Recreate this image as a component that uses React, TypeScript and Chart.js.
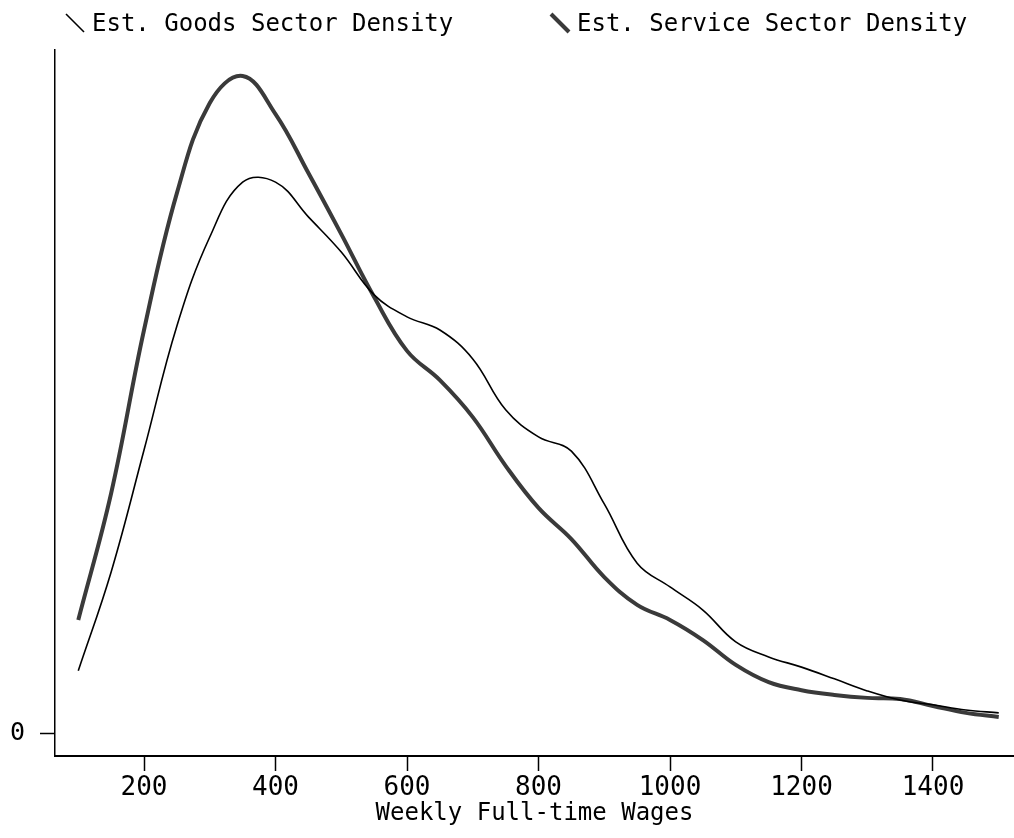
import React, { useEffect, useRef } from 'react';
import { Chart, registerables } from 'chart.js';

Chart.register(...registerables);

// Weekly wage grid (x values of the density estimates)
const wages = [
  100, 150, 200, 250, 300, 350, 400, 450, 500, 550, 600, 650, 700, 750,
  800, 850, 900, 950, 1000, 1050, 1100, 1150, 1200, 1250, 1300, 1350, 1400, 1450, 1500,
];

// Estimated kernel densities
const goodsDensity = [
  0.00017, 0.00044, 0.000773, 0.001112, 0.001355, 0.001505, 0.001505, 0.00141,
  0.001314, 0.001197, 0.001137, 0.001101, 0.001022, 0.000883, 0.000809, 0.00077, 0.000626,
  0.000464, 0.000399, 0.000336, 0.000249, 0.000208, 0.00018, 0.000148, 0.000115, 0.00009,
  0.000077, 0.000063, 0.000055,
];

const serviceDensity = [
  0.000309, 0.000655, 0.001101, 0.001475, 0.001721, 0.001795, 0.001691, 0.00153,
  0.001363, 0.001191, 0.001044, 0.000964, 0.000863, 0.00073, 0.000615, 0.00053, 0.000426,
  0.00035, 0.000309, 0.000254, 0.000186, 0.000139, 0.000117, 0.000104, 0.000096, 0.000093,
  0.000074, 0.000055, 0.000044,
];

const xTickValues = [200, 400, 600, 800, 1000, 1200, 1400];
const yTickValues = [0];
const seriesLabels = ['Est. Goods Sector Density', 'Est. Service Sector Density'];
const xTitle = 'Weekly Full-time Wages';

const FONT = '"DejaVu Sans Mono", "Liberation Mono", monospace';

export default function App() {
  const ref = useRef<HTMLCanvasElement>(null);

  useEffect(() => {
    if (!ref.current) return;

    const legendPlugin = {
      id: 'topLegend',
      afterDraw(chart: any) {
        const ctx = chart.ctx as CanvasRenderingContext2D;
        const slots = [
          { mx: 66, tx: 92 },
          { mx: 551, tx: 577 },
        ];
        ctx.save();
        ctx.font = `24px ${FONT}`;
        ctx.fillStyle = '#000';
        ctx.textBaseline = 'alphabetic';
        ctx.textAlign = 'left';
        chart.data.datasets.forEach((ds: any, i: number) => {
          const s = slots[i];
          ctx.beginPath();
          ctx.strokeStyle = ds.borderColor;
          ctx.lineWidth = ds.borderWidth;
          ctx.lineCap = 'butt';
          ctx.moveTo(s.mx, 14);
          ctx.lineTo(s.mx + 18, 32);
          ctx.stroke();
          ctx.fillText(ds.label, s.tx, 31);
        });
        ctx.restore();
      },
    };

    const chart = new Chart(ref.current, {
      type: 'line',
      data: {
        datasets: [
          {
            label: seriesLabels[0],
            data: wages.map((w, i) => ({ x: w, y: goodsDensity[i] })),
            borderColor: '#000',
            borderWidth: 1.6,
            pointRadius: 0,
            fill: false,
            tension: 0.4,
          },
          {
            label: seriesLabels[1],
            data: wages.map((w, i) => ({ x: w, y: serviceDensity[i] })),
            borderColor: '#3a3a3a',
            borderWidth: 4,
            pointRadius: 0,
            fill: false,
            tension: 0.4,
          },
        ],
      },
      options: {
        responsive: false,
        animation: false,
        layout: { padding: { top: 50, left: 0, right: 0, bottom: 0 } },
        plugins: {
          legend: { display: false },
          tooltip: { enabled: false },
        },
        scales: {
          x: {
            type: 'linear',
            min: 64.6,
            max: 1523.2,
            afterBuildTicks: (s: any) => {
              s.ticks = xTickValues.map((v) => ({ value: v }));
            },
            afterFit: (s: any) => {
              s.height = 82;
            },
            grid: {
              drawOnChartArea: false,
              drawTicks: true,
              tickLength: 15,
              tickColor: '#000',
              tickWidth: 1.5,
            },
            border: { display: true, color: '#000', width: 2 },
            ticks: {
              color: '#000',
              font: { family: FONT, size: 26 },
              padding: 2,
              maxRotation: 0,
              autoSkip: false,
              callback: (v: any) => String(v),
            },
            title: {
              display: true,
              text: xTitle,
              color: '#000',
              font: { family: FONT, size: 24 },
              padding: { top: 0, bottom: 10 },
            },
          },
          y: {
            type: 'linear',
            min: -0.0000628,
            max: 0.001866,
            afterBuildTicks: (s: any) => {
              s.ticks = yTickValues.map((v) => ({ value: v }));
            },
            afterFit: (s: any) => {
              s.width = 55;
            },
            grid: {
              drawOnChartArea: false,
              drawTicks: true,
              tickLength: 15,
              tickColor: '#000',
              tickWidth: 1.5,
            },
            border: { display: true, color: '#000', width: 1.5 },
            ticks: {
              color: '#000',
              font: { family: FONT, size: 25 },
              padding: 15,
              callback: (v: any) => String(v),
            },
          },
        },
      },
      plugins: [legendPlugin],
    } as any);

    return () => chart.destroy();
  }, []);

  return (
    <div style={{ position: 'fixed', left: 0, top: 0, width: 1014, height: 838, background: '#fff' }}>
      <canvas ref={ref} width={1014} height={838} style={{ display: 'block' }} />
    </div>
  );
}
